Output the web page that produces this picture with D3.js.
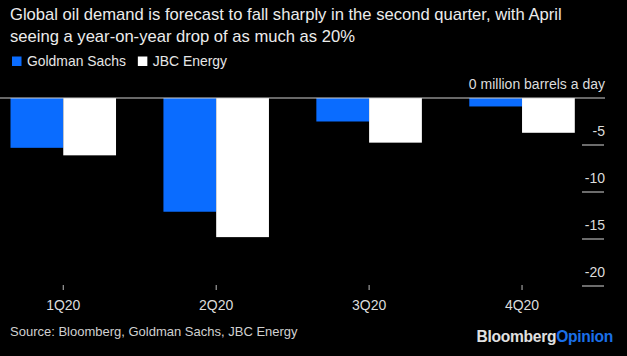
<!DOCTYPE html>
<html>
<head>
<meta charset="utf-8">
<script src="https://cdn.jsdelivr.net/npm/d3@7"></script>
<style>
  html, body { margin: 0; padding: 0; background: #000; }
  svg { display: block; font-family: "Liberation Sans", Arial, Helvetica, sans-serif; }
</style>
</head>
<body>
<svg id="chart" width="627" height="356"></svg>
<script>
const categories = ["1Q20", "2Q20", "3Q20", "4Q20"];
const seriesNames = ["Goldman Sachs", "JBC Energy"];
const goldmanSachs = [-5.3, -12.1, -2.5, -0.9];
const jbcEnergy = [-6.1, -14.8, -4.75, -3.7];
const yTicks = [0, -5, -10, -15, -20];
const titleLines = [
  "Global oil demand is forecast to fall sharply in the second quarter, with April",
  "seeing a year-on-year drop of as much as 20%"
];
const sourceText = "Source: Bloomberg, Goldman Sachs, JBC Energy";
const unitLabel = "million barrels a day";

const colors = { "Goldman Sachs": "#0a6cff", "JBC Energy": "#ffffff" };
const seriesValues = { "Goldman Sachs": goldmanSachs, "JBC Energy": jbcEnergy };

const svg = d3.select("#chart");
svg.append("rect").attr("width", 627).attr("height", 356).attr("fill", "#000");

// Title
const title = svg.append("text").attr("fill", "#ececec").attr("font-size", 16.6);
titleLines.forEach((t, i) => {
  title.append("tspan").attr("x", 10).attr("y", 19.5 + i * 22).text(t);
});

// Legend
let lx = 12;
seriesNames.forEach((name) => {
  svg.append("rect").attr("x", lx).attr("y", 56.5).attr("width", 9.5).attr("height", 9.5).attr("fill", colors[name]);
  const t = svg.append("text").attr("x", lx + 15).attr("y", 66)
    .attr("fill", "#e6e6e6").attr("font-size", 13.9).text(name);
  lx += 15 + t.node().getComputedTextLength() + 12;
});

// Scales
const y = d3.scaleLinear().domain([0, -20]).range([98, 286]);
const x0 = d3.scaleBand().domain(categories).range([-13.2, 598.5]).paddingInner(0.31).paddingOuter(0.155);
const x1 = d3.scaleBand().domain(seriesNames).range([0, x0.bandwidth()]).padding(0);

// Y gridline ticks (short lines at right) and labels
const yAxisG = svg.append("g");
yTicks.forEach((v) => {
  if (v !== 0) {
    yAxisG.append("line").attr("x1", 582).attr("x2", 604)
      .attr("y1", y(v)).attr("y2", y(v)).attr("stroke", "#d8d8d8").attr("stroke-width", 1);
  }
  yAxisG.append("text").attr("x", 605).attr("y", y(v) - 9.5)
    .attr("text-anchor", "end").attr("fill", "#dcdcdc").attr("font-size", 14)
    .text(v === 0 ? v + " " + unitLabel : String(v));
});

// Bars
const groups = svg.append("g").selectAll("g").data(categories).join("g")
  .attr("transform", d => `translate(${x0(d)},0)`);
groups.selectAll("rect")
  .data((d, i) => seriesNames.map(s => ({ s, v: seriesValues[s][i] })))
  .join("rect")
  .attr("x", d => x1(d.s))
  .attr("width", x1.bandwidth())
  .attr("y", d => y(Math.max(0, d.v)))
  .attr("height", d => Math.abs(y(d.v) - y(0)))
  .attr("fill", d => colors[d.s]);

// Zero line
svg.append("line").attr("x1", 0).attr("x2", 605).attr("y1", y(0)).attr("y2", y(0))
  .attr("stroke", "#cfcfcf").attr("stroke-width", 1);

// X axis
const xAxis = d3.axisBottom(x0).tickSize(5).tickPadding(0);
const xg = svg.append("g").attr("transform", "translate(0,285)").call(xAxis);
xg.select(".domain").remove();
xg.selectAll(".tick line").attr("stroke", "#bbbbbb");
xg.selectAll(".tick text").attr("fill", "#dcdcdc").attr("font-size", 14)
  .attr("font-family", "Liberation Sans, Arial, sans-serif").attr("dy", "1.45em");

// Source
svg.append("text").attr("x", 10).attr("y", 336).attr("fill", "#d0d0d0")
  .attr("font-size", 13).text(sourceText);

// Branding
const brand = svg.append("text").attr("x", 613).attr("y", 342).attr("text-anchor", "end")
  .attr("font-size", 15.6).attr("font-weight", "bold").attr("letter-spacing", -0.3);
brand.append("tspan").attr("fill", "#e0e0e0").text("Bloomberg");
brand.append("tspan").attr("fill", "#1a6fe8").text("Opinion");
</script>
</body>
</html>
